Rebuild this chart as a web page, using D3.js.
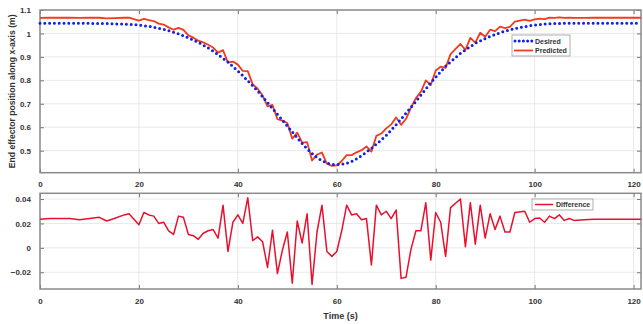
<!DOCTYPE html>
<html>
<head>
<meta charset="utf-8">
<script src="https://cdn.jsdelivr.net/npm/d3@7"></script>
<style>
  body { margin: 0; background: #fff; }
  text { font-family: "Liberation Sans", Arial, sans-serif; font-weight: bold; fill: #333; }
</style>
</head>
<body>
<svg id="chart" width="643" height="324"></svg>
<script>
// time stamps (s) shared by the three series
const time = [0, 2, 4, 6, 8, 10, 12, 13.5, 15, 17, 18, 20, 21, 22, 23, 24, 25, 26, 27, 28, 29,
  30, 31, 32, 33, 34, 35, 36, 37, 38, 39, 40, 41, 42, 43, 44, 45, 46, 47, 48, 49,
  50, 51, 52, 53, 54, 55, 56, 57, 58, 59, 60, 61, 62, 63, 64, 65, 66, 67, 68, 69,
  70, 71, 72, 73, 74, 75, 76, 77, 78, 79, 80, 81, 82, 83, 85, 86, 87, 88, 89,
  90, 91, 92, 93, 94, 95, 96, 98, 99, 100, 101, 102, 103, 104, 105, 106, 107, 108,
  110, 112, 116, 121.5];

const desired = [1.043, 1.043, 1.043, 1.043, 1.043, 1.043, 1.042, 1.042, 1.041, 1.040, 1.039, 1.036, 1.033, 1.030, 1.027, 1.022, 1.017, 1.012, 1.005, 0.998, 0.990,
  0.981, 0.972, 0.962, 0.950, 0.938, 0.925, 0.910, 0.894, 0.878, 0.859, 0.840, 0.820, 0.798, 0.777, 0.755, 0.730, 0.705, 0.680, 0.655, 0.630,
  0.605, 0.580, 0.555, 0.530, 0.508, 0.488, 0.470, 0.457, 0.447, 0.442, 0.440, 0.442, 0.446, 0.454, 0.465, 0.479, 0.494, 0.510, 0.528, 0.546,
  0.565, 0.588, 0.611, 0.635, 0.660, 0.685, 0.710, 0.737, 0.763, 0.790, 0.813, 0.837, 0.860, 0.879, 0.915, 0.929, 0.944, 0.958, 0.968,
  0.978, 0.988, 0.995, 1.003, 1.010, 1.015, 1.021, 1.029, 1.033, 1.036, 1.038, 1.040, 1.041, 1.042, 1.042, 1.043, 1.043, 1.043,
  1.043, 1.043, 1.043, 1.043];

const predicted = [1.066, 1.067, 1.067, 1.067, 1.066, 1.067, 1.067, 1.064, 1.065, 1.067, 1.067, 1.055, 1.062, 1.057, 1.053, 1.042, 1.038, 1.026, 1.016, 1.024, 1.015,
  0.992, 0.982, 0.969, 0.962, 0.952, 0.940, 0.918, 0.929, 0.875, 0.880, 0.867, 0.840, 0.839, 0.783, 0.764, 0.735, 0.689, 0.695, 0.634, 0.628,
  0.618, 0.551, 0.577, 0.534, 0.536, 0.458, 0.483, 0.492, 0.444, 0.435, 0.437, 0.456, 0.481, 0.481, 0.493, 0.502, 0.518, 0.496, 0.563, 0.573,
  0.595, 0.612, 0.642, 0.610, 0.636, 0.684, 0.724, 0.751, 0.800, 0.780, 0.842, 0.858, 0.853, 0.912, 0.955, 0.930, 0.981, 0.961, 1.003,
  0.986, 1.016, 1.010, 1.029, 1.023, 1.028, 1.050, 1.059, 1.054, 1.060, 1.063, 1.061, 1.067, 1.066, 1.069, 1.066, 1.067, 1.066,
  1.066, 1.067, 1.067, 1.067];

const difference = [0.0235, 0.024, 0.024, 0.024, 0.023, 0.024, 0.025, 0.022, 0.024, 0.027, 0.028, 0.019, 0.029, 0.027, 0.026, 0.020, 0.021, 0.014, 0.011, 0.026, 0.025,
  0.011, 0.010, 0.007, 0.012, 0.014, 0.015, 0.008, 0.035, -0.003, 0.021, 0.027, 0.020, 0.041, 0.006, 0.009, 0.005, -0.016, 0.0145, -0.021, -0.002,
  0.013, -0.029, 0.022, 0.004, 0.028, -0.030, 0.013, 0.035, -0.003, -0.007, -0.003, 0.014, 0.035, 0.027, 0.028, 0.023, 0.024, -0.014, 0.035, 0.027,
  0.030, 0.024, 0.031, -0.025, -0.024, -0.001, 0.014, 0.014, 0.037, -0.010, 0.029, 0.021, -0.007, 0.033, 0.040, 0.001, 0.037, 0.003, 0.035,
  0.008, 0.028, 0.015, 0.026, 0.013, 0.013, 0.029, 0.030, 0.021, 0.024, 0.0245, 0.021, 0.026, 0.024, 0.027, 0.0225, 0.024, 0.0225,
  0.023, 0.0235, 0.0235, 0.0235];

const xTicks = [0, 20, 40, 60, 80, 100, 120];
const topYTicks = [0.5, 0.6, 0.7, 0.8, 0.9, 1, 1.1];
const botYTicks = [-0.02, 0, 0.02, 0.04];

const left = 40, right = 641;
const svg = d3.select("#chart");

const x = d3.scaleLinear().domain([0, 121.5]).range([left, right]);
const yTop = d3.scaleLinear().domain([0.406, 1.1]).range([172.7, 10]);
const yBot = d3.scaleLinear().domain([-0.0337, 0.0447]).range([289, 193.3]);

// draws grid, frame, inside ticks and tick labels for one panel
function panel(y, yTicks, yFmt) {
    const g = svg.append("g");
    const [y0, y1] = y.range();
    g.selectAll(".vgrid").data(xTicks).enter().append("line")
        .attr("x1", d => x(d)).attr("x2", d => x(d))
        .attr("y1", y1).attr("y2", y0)
        .attr("stroke", "#e3e3e3").attr("stroke-width", 0.8);
    g.selectAll(".hgrid").data(yTicks).enter().append("line")
        .attr("x1", left).attr("x2", right)
        .attr("y1", d => y(d)).attr("y2", d => y(d))
        .attr("stroke", "#e3e3e3").attr("stroke-width", 0.8);

    // axes with ticks pointing inwards
    g.append("g")
        .attr("transform", `translate(0,${y0})`)
        .call(d3.axisBottom(x).tickValues(xTicks).tickSizeInner(-4).tickSizeOuter(0).tickPadding(9).tickFormat(d3.format("d")))
        .call(a => a.select(".domain").remove());
    g.append("g")
        .attr("transform", `translate(${left},0)`)
        .call(d3.axisLeft(y).tickValues(yTicks).tickSizeInner(-4).tickSizeOuter(0).tickPadding(9).tickFormat(yFmt))
        .call(a => a.select(".domain").remove());
    g.append("g")
        .attr("transform", `translate(${right},0)`)
        .call(d3.axisRight(y).tickValues(yTicks).tickSizeInner(-4).tickSizeOuter(0).tickFormat(""))
        .call(a => a.select(".domain").remove());
    g.append("g")
        .attr("transform", `translate(0,${y1})`)
        .call(d3.axisTop(x).tickValues(xTicks).tickSizeInner(-4).tickSizeOuter(0).tickFormat(""))
        .call(a => a.select(".domain").remove());
    g.selectAll(".tick line").attr("stroke", "#777");
    g.selectAll(".tick text").attr("font-size", 8).attr("font-family", null).attr("fill", "#333");

    g.append("rect")
        .attr("x", left).attr("y", y1)
        .attr("width", right - left).attr("height", y0 - y1)
        .attr("fill", "none").attr("stroke", "#8a8a8a").attr("stroke-width", 1.5);
}

panel(yTop, topYTicks, d => d === 1 ? "1" : d3.format(".1f")(d));
panel(yBot, botYTicks, d => d === 0 ? "0" : d3.format(".2f")(d));

const lineTop = d3.line().x((d, i) => x(time[i])).y(d => yTop(d));
const lineBot = d3.line().x((d, i) => x(time[i])).y(d => yBot(d));

svg.append("path")
    .datum(predicted)
    .attr("d", lineTop)
    .attr("fill", "none")
    .attr("stroke", "#f23a1c")
    .attr("stroke-width", 1.8)
    .attr("stroke-linejoin", "round");

svg.append("path")
    .datum(desired)
    .attr("d", lineTop)
    .attr("fill", "none")
    .attr("stroke", "#1020e8")
    .attr("stroke-width", 3)
    .attr("stroke-linecap", "round")
    .attr("stroke-dasharray", "0,4.8");

svg.append("path")
    .datum(difference)
    .attr("d", lineBot)
    .attr("fill", "none")
    .attr("stroke", "#e8102e")
    .attr("stroke-width", 1.5)
    .attr("stroke-linejoin", "round");

// legends
const leg1 = svg.append("g").attr("transform", "translate(512,35)");
leg1.append("rect").attr("width", 58).attr("height", 21)
    .attr("fill", "#fff").attr("stroke", "#999").attr("stroke-width", 0.8);
leg1.append("line").attr("x1", 3).attr("x2", 20).attr("y1", 6).attr("y2", 6)
    .attr("stroke", "#1020e8").attr("stroke-width", 3)
    .attr("stroke-linecap", "round").attr("stroke-dasharray", "0,4.2");
leg1.append("text").attr("x", 23).attr("y", 8.5).attr("font-size", 7).text("Desired");
leg1.append("line").attr("x1", 2).attr("x2", 21).attr("y1", 15.5).attr("y2", 15.5)
    .attr("stroke", "#f23a1c").attr("stroke-width", 1.8);
leg1.append("text").attr("x", 23).attr("y", 18).attr("font-size", 7).text("Predicted");

const leg2 = svg.append("g").attr("transform", "translate(532,199)");
leg2.append("rect").attr("width", 61).attr("height", 11)
    .attr("fill", "#fff").attr("stroke", "#999").attr("stroke-width", 0.8);
leg2.append("line").attr("x1", 3).attr("x2", 21).attr("y1", 5.5).attr("y2", 5.5)
    .attr("stroke", "#e8102e").attr("stroke-width", 1.5);
leg2.append("text").attr("x", 24).attr("y", 8).attr("font-size", 7).text("Difference");

// axis titles
svg.append("text")
    .attr("text-anchor", "middle")
    .attr("transform", `translate(15,${(10 + 172.7) / 2}) rotate(-90)`)
    .attr("font-size", 8.6)
    .text("End effector position along x-axis (m)");

svg.append("text")
    .attr("text-anchor", "middle")
    .attr("x", (left + right) / 2)
    .attr("y", 319)
    .attr("font-size", 9)
    .text("Time (s)");
</script>
</body>
</html>
